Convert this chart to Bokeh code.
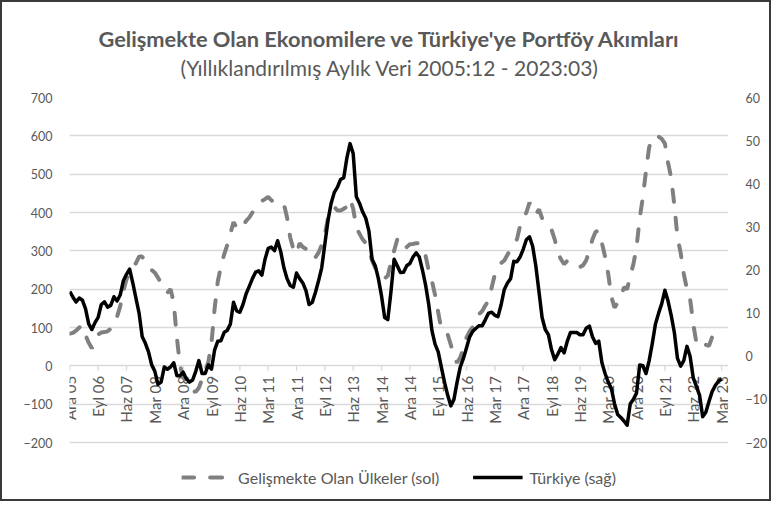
import math
from bokeh.plotting import figure
from bokeh.models import Range1d, LinearAxis, Legend, LegendItem, Title, FixedTicker
from bokeh.core.properties import value
from bokeh.embed import file_html
from bokeh.resources import INLINE

tick_labels = ["Ara 05", "Eyl 06", "Haz 07", "Mar 08", "Ara 08", "Eyl 09", "Haz 10", "Mar 11",
               "Ara 11", "Eyl 12", "Haz 13", "Mar 14", "Ara 14", "Eyl 15", "Haz 16", "Mar 17",
               "Ara 17", "Eyl 18", "Haz 19", "Mar 20", "Ara 20", "Eyl 21", "Haz 22", "Mar 23"]
tick_step = 9

# Gelişmekte Olan Ülkeler (sol eksen), aylık 2005:12 - 2023:03
em = [
    84, 86, 92, 100, 105, 80, 60, 46, 58, 82,
    87, 88, 90, 97, 105, 128, 155, 195, 225, 245,
    255, 268, 285, 285, 270, 260, 250, 243, 230, 215,
    200, 191, 200, 165, 74, 0, -30, -39, -55, -65,
    -68, -57, -35, -12, 10, 60, 150, 220, 260, 290,
    315, 345, 375, 360, 355, 365, 378, 387, 400, 413,
    422, 430, 435, 441, 432, 426, 425, 424, 422, 387,
    335, 305, 292, 320, 310, 305, 298, 280, 283, 295,
    315, 343, 385, 405, 415, 405, 405, 410, 415, 435,
    410, 360, 345, 330, 320, 305, 275, 255, 243, 232,
    228, 235, 270, 300, 330, 315, 304, 310, 317, 318,
    320, 319, 308, 287, 248, 222, 185, 140, 95, 85,
    82, 55, 25, 8, 22, 45, 74, 90, 102, 118,
    135, 143, 158, 170, 205, 239, 255, 268, 275, 290,
    304, 315, 330, 365, 385, 400, 426, 405, 395, 408,
    385, 375, 365, 355, 330, 295, 278, 265, 274, 272,
    268, 260, 258, 262, 275, 300, 330, 350, 352, 320,
    285, 240, 180, 152, 165, 177, 205, 200, 235, 265,
    310, 385, 440, 509, 570, 595, 600, 598, 592, 580,
    530, 490, 420, 335, 295, 240, 200, 175, 110, 60,
    68, 65, 55, 52, 75, 90, 100, 105,
]

# Türkiye (sağ eksen)
tr = [
    15, 13.7, 12.6, 13.5, 13, 11, 7.5, 6.2, 7.8, 9,
    12, 12.6, 11.4, 11.8, 13.8, 12.8, 14.2, 17.5, 19, 20.2,
    17, 13.5, 10, 4.5, 3, 1, -2, -3.5, -6.5, -6,
    -2.5, -3, -2.5, -1.5, -4.5, -4.5, -3.7, -5.2, -6, -5.5,
    -3.5, -1, -4, -4, -2, -3, 1.5, 3.5, 3.6, 5.5,
    6, 7.5, 12.5, 10.5, 10.2, 12, 14.5, 16.2, 18, 19.5,
    19.8, 18.8, 22.5, 25, 25.3, 24.5, 26.8, 24.2, 20.5, 18,
    16.4, 16, 19.3, 18, 17, 15.2, 12, 12.5, 14.8, 17.5,
    20.5, 26, 31.5, 35.5, 38, 39.2, 41, 41.4, 46, 49.3,
    47, 37, 35.5, 33.5, 32, 29, 22.5, 21, 18, 14,
    9, 8.5, 15, 22.5, 21, 19.4, 19.5, 21, 21.5, 23,
    24, 23, 20, 16.5, 12, 6, 2.8, 1, -2.5, -6,
    -9, -11.5, -10, -6, -2.5, -0.5, 2, 4.5, 5.8, 6.5,
    7.1, 7.1, 8.5, 10, 10.2, 9.5, 9.2, 12, 15.5, 17,
    18, 22, 21.9, 23, 24.8, 27, 27.7, 25.5, 21, 15,
    9, 6.2, 5, 1.5, -0.8, 0.5, 2, 0.8, 3.5, 5.5,
    5.5, 5.5, 5, 5, 6.5, 7, 4.5, 3, 3.5, -1.5,
    -4, -6, -7.5, -11, -13.5, -14.2, -15, -16, -11, -10,
    -8.5, -2, -2.2, -4, -1, 3, 7.5, 10, 12.2, 15.3,
    12.8, 9.5, 5.5, -0.5, -2.3, -1, 2.3, 0, -5, -7,
    -9, -14, -13, -10.5, -8.2, -6.8, -5.8, -5.3,
]

left_ticks = list(range(-200, 701, 100))
right_ticks = list(range(-20, 61, 10))

FONT = "Lato"
TXT = "#595959"
GRID = "#d9d9d9"

x = list(range(len(em)))
tick_x = [i * tick_step for i in range(len(tick_labels))]

# frame extends below the -200 gridline so that the legend can sit inside it
p = figure(width=771, height=501, output_backend="svg", toolbar_location=None,
           x_range=Range1d(-0.1, 209.2), y_range=Range1d(-359.1, 700),
           x_axis_location=None,
           min_border_left=67, min_border_right=45, min_border_top=95, min_border_bottom=0)
p.extra_y_ranges = {"r": Range1d(-34.14, 60)}
p.outline_line_color = None
p.background_fill_color = "white"
p.border_fill_color = "white"
p.styles = {"border": "2px solid #3a3a3a"}
p.xgrid.visible = False

ya = p.yaxis[0]
ya.ticker = FixedTicker(ticks=left_ticks)
ra = LinearAxis(y_range_name="r", ticker=FixedTicker(ticks=right_ticks))
p.add_layout(ra, "right")
for ax in (ya, ra):
    ax.axis_line_color = None
    ax.major_tick_line_color = None
    ax.minor_tick_line_color = None
    ax.major_tick_out = 0
    ax.major_tick_in = 0
    ax.major_label_text_font = FONT
    ax.major_label_text_font_size = "12.5px"
    ax.major_label_text_color = TXT
    ax.major_label_standoff = 17

p.ygrid.ticker = FixedTicker(ticks=left_ticks)
p.ygrid.grid_line_color = GRID
p.ygrid.grid_line_width = 1.3

# category tick marks and labels on the zero line
p.segment(x0=tick_x, y0=[0] * len(tick_x), x1=tick_x, y1=[-13] * len(tick_x),
          line_color=GRID, line_width=1.3)
p.text(x=tick_x, y=[0] * len(tick_x), text=tick_labels, angle=math.pi / 2,
       text_align="right", text_baseline="middle", y_offset=10,
       text_font=value(FONT), text_font_size="15px", text_color=TXT)

g = p.line(x, em, line_color="#808080", line_width=4, line_dash="12 16", line_cap="round")
b = p.line(x, tr, y_range_name="r", line_color="black", line_width=3.5, line_join="round")

legend = Legend(items=[LegendItem(label="Gelişmekte Olan Ülkeler (sol)", renderers=[g]),
                       LegendItem(label="Türkiye (sağ)", renderers=[b])],
                orientation="horizontal", location="bottom_center",
                label_text_font=FONT, label_text_font_size="16px", label_text_color=TXT,
                glyph_width=50, label_standoff=7, spacing=33, padding=8, margin=16,
                border_line_color=None, background_fill_alpha=0)
p.add_layout(legend, "center")

# spacer between the plot area and the two title lines
p.add_layout(Title(text=" ", text_font_size="1px", standoff=15), "above")
p.add_layout(Title(text="(Yıllıklandırılmış Aylık Veri 2005:12 - 2023:03)", align="left",
                   text_font=FONT, text_font_size="21px", text_font_style="normal",
                   text_color=TXT, offset=111, standoff=0), "above")
p.add_layout(Title(text="Gelişmekte Olan Ekonomilere ve Türkiye'ye Portföy Akımları", align="left",
                   text_font=FONT, text_font_size="21.8px", text_font_style="bold",
                   text_color=TXT, offset=29, standoff=2), "above")

open("out.html", "w").write(file_html(p, INLINE))
